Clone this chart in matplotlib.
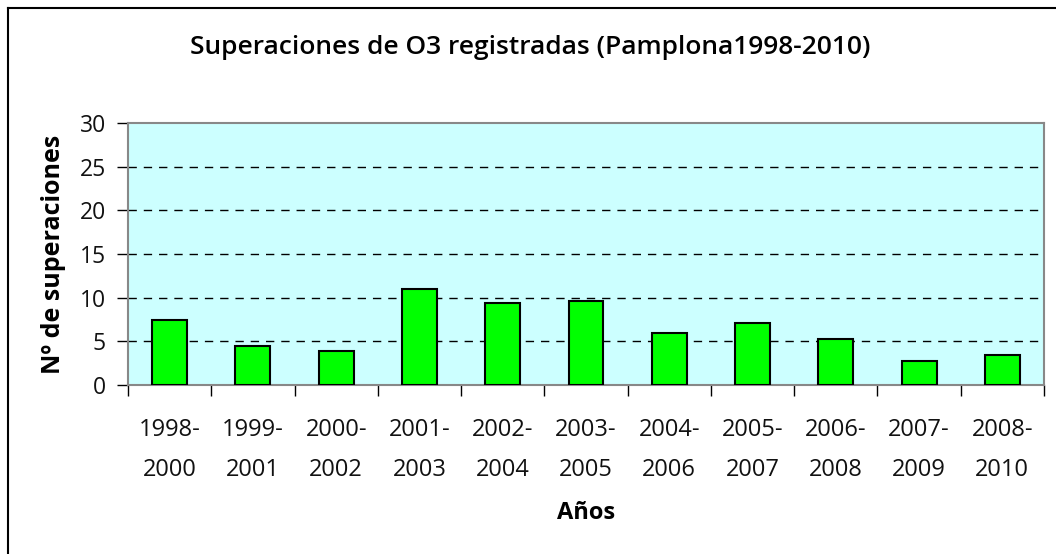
import numpy as np
import matplotlib.pyplot as plt
from matplotlib.lines import Line2D

# datos
periodos = ["1998-\n2000", "1999-\n2001", "2000-\n2002", "2001-\n2003", "2002-\n2004",
            "2003-\n2005", "2004-\n2006", "2005-\n2007", "2006-\n2008", "2007-\n2009",
            "2008-\n2010"]
superaciones = [7.5, 4.5, 3.9, 11.0, 9.4, 9.6, 6.0, 7.1, 5.3, 2.75, 3.4]
y_ticks = [0, 5, 10, 15, 20, 25, 30]

plt.rcParams['font.family'] = ['Open Sans', 'DejaVu Sans']

W, H = 1056, 554
fig = plt.figure(figsize=(W / 100, H / 100), dpi=100)
ax = fig.add_axes([128 / W, 1 - 385 / H, (1044 - 128) / W, (385 - 123) / H])
ax.set_facecolor('#CCFFFF')

x = np.arange(len(periodos))
ax.bar(x, superaciones, width=0.42, color='#00FF00', edgecolor='black', linewidth=1.5, zorder=3)

ax.set_xlim(-0.5, len(periodos) - 0.5)
ax.set_ylim(0, 30)
ax.set_yticks(y_ticks)
ax.set_yticklabels([str(v) for v in y_ticks], fontsize=16.5)
ax.tick_params(axis='y', length=8, width=1, color='black', pad=8, labelcolor='#111111')

# ticks en los limites de las categorias, etiquetas en el centro
ax.set_xticks(np.arange(-0.5, len(periodos), 1.0))
ax.set_xticklabels([])
ax.tick_params(axis='x', which='major', length=8, width=1, color='black', direction='out')
ax.set_xticks(x, minor=True)
ax.set_xticklabels(periodos, minor=True, fontsize=17, linespacing=1.85)
ax.tick_params(axis='x', which='minor', length=0, pad=24, labelcolor='#111111')

for v in y_ticks[1:-1]:
    ax.axhline(v, color='black', linestyle=(0, (6, 5)), linewidth=1, zorder=1)

for s in ax.spines.values():
    s.set_color('#888888')
    s.set_linewidth(1.5)

ax.set_ylabel("Nº de superaciones", fontsize=18, fontweight='bold', labelpad=10)
ax.set_xlabel("Años", fontsize=17, fontweight='bold', labelpad=14)

fig.text(530 / W, 1 - 48 / H, "Superaciones de O3 registradas (Pamplona1998-2010)",
         ha='center', va='center', fontsize=19, fontweight='semibold')

# marco exterior
fig.add_artist(Line2D([8 / W, 8 / W], [0, 1 - 8 / H], color='black', linewidth=1.5))
fig.add_artist(Line2D([8 / W, 1], [1 - 8 / H, 1 - 8 / H], color='black', linewidth=1.5))

fig.savefig("out.png", dpi=100)
